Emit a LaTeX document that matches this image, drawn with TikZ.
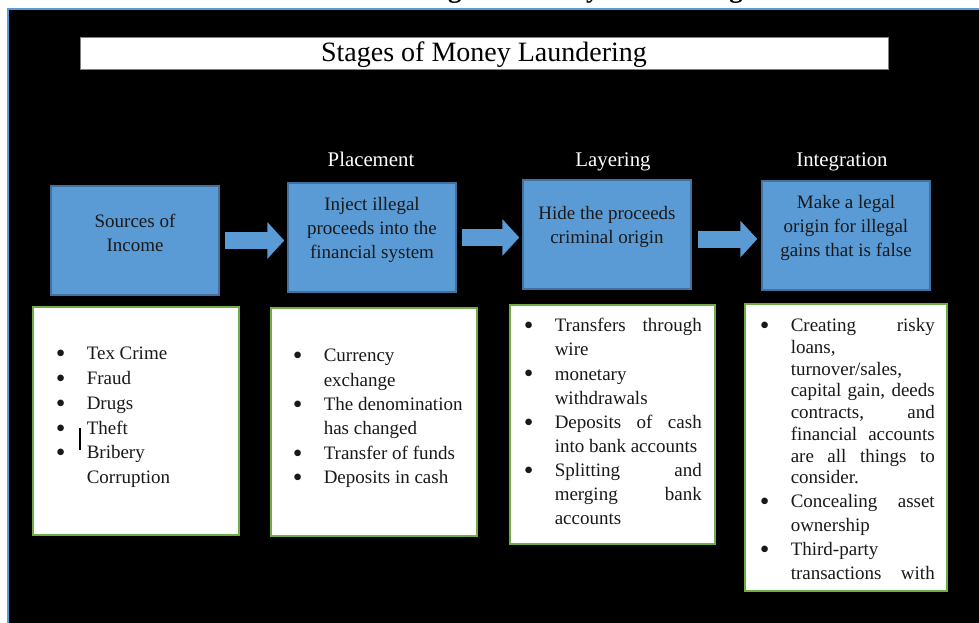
\documentclass[tikz,border=0pt]{standalone}
\usepackage{fontspec}
\setmainfont{Liberation Serif}
\usetikzlibrary{arrows.meta,positioning}

\newdimen\px \px=0.75pt
\definecolor{stageblue}{HTML}{5B9BD5}
\definecolor{stageedge}{HTML}{41719C}
\definecolor{listedge}{HTML}{70AD47}

% bullet column, indent, justified line
\newcommand\bl{\makebox[31\px][l]{\smash{\raisebox{-2.2pt}{\scalebox{1.45}{\textbullet}}}}}
\newcommand\ind{\hspace*{31\px}}
\newcommand\jl[2]{\makebox[#1\px][s]{#2}}
\newcommand\topline{\rule{0pt}{14\px}}

\begin{document}
\begin{tikzpicture}[x=\px,y=-\px,
  stagebox/.style={draw=stageedge,line width=1.5\px,fill=stageblue,minimum width=168\px,minimum height=109\px,inner sep=0pt},
  boxtext/.style={align=center,inner sep=0pt,text=black!90,font=\fontsize{14.25}{18}\selectfont},
  stagelbl/.style={text=white,inner sep=0pt,anchor=base,font=\fontsize{15.6}{18}\selectfont},
  listbox/.style={draw=listedge,line width=2\px,fill=white,inner sep=0pt},
  listtext/.style={align=left,anchor=north west,inner sep=0pt,text=black!90},
  flow/.style={draw=stageblue,line width=12.75pt,-{Triangle[length=12.75pt,width=27pt]},shorten <=3.75pt,shorten >=2.25pt}]

\useasboundingbox (0,0) rectangle (979,623);
\fill[white] (0,0) rectangle (979,623);
\fill[black] (8,9) rectangle (979,623);
\draw[stageblue,line width=2\px] (8,623) -- (8,9) -- (979,9);

% caption, cut off at the top
\begin{scope}
\clip (0,0) rectangle (979,8);
\node[anchor=base,inner sep=0pt,font=\bfseries\fontsize{20.25}{24}\selectfont] (cap) at (500,-2) {Table 1: The Stages of Money Laundering};
\end{scope}

\node[draw=gray,fill=white,minimum width=808\px,inner sep=0pt,text height=25\px,text depth=7\px,font=\fontsize{21}{24}\selectfont] (title) at (484,53) {Stages of Money Laundering};

% stage names
\node[stagelbl] (plab) at (371,167) {Placement};
\node[stagelbl] (llab) at (613,167) {Layering};
\node[stagelbl] (ilab) at (842,167) {Integration};

% blue boxes
\node[stagebox] (src) at (135,240.5) {};
\node[stagebox] (place) at (372,237.5) {};
\node[stagebox] (layer) at (607,234.5) {};
\node[stagebox] (integ) at (846,235.5) {};

\node[boxtext] (srct) at (135,232.5) {Sources of\\Income};
\node[boxtext] (placet) at (372,230) {Inject illegal\\proceeds into the\\financial system};
\node[boxtext] (layert) at (607,227) {Hide the proceeds\\criminal origin};
\node[boxtext] (integt) at (846,228) {Make a legal\\origin for illegal\\gains that is false};

% block arrows
\draw[flow] (src.east) -- (src.east -| place.west);
\draw[flow] (place.east) -- (place.east -| layer.west);
\coordinate (a3) at ([yshift=-3.4pt]layer.east);
\draw[flow,shorten <=4.5pt,shorten >=3pt] (a3) -- (a3 -| integ.west);

% lists
\node[listbox,minimum width=206\px,minimum height=228\px] (srcl) at (136,421) {};
\node[listbox,minimum width=206\px,minimum height=228\px] (placel) at (374,422) {};
\node[listbox,minimum width=205\px,minimum height=239\px] (layerl) at (612.5,424.5) {};
\node[listbox,minimum width=202\px,minimum height=287\px] (integl) at (846,447.5) {};

\node[listtext,font=\fontsize{14.25}{18.6}\selectfont] (srcx) at (55.5,345.5) {\topline\bl Tex Crime\\
\bl Fraud\\
\bl Drugs\\
\bl Theft\\
\bl Bribery\\
\ind Corruption};
\draw[line width=1.5\px] (80,428) -- (80,450);

\node[listtext,font=\fontsize{14.25}{18.3}\selectfont] (placex) at (292.5,347.5) {\topline\bl Currency\\
\ind exchange\\
\bl The denomination\\
\ind has changed\\
\bl Transfer of funds\\
\bl Deposits in cash};

\node[listtext,font=\fontsize{14.25}{18.1}\selectfont] (layerx) at (523.5,317.5) {\topline\bl\jl{147}{Transfers through}\\
\ind wire\\
\bl monetary\\
\ind withdrawals\\
\bl\jl{147}{Deposits of cash}\\
\ind into bank accounts\\
\bl\jl{147}{Splitting and}\\
\ind\jl{147}{merging bank}\\
\ind accounts};

\node[listtext,font=\fontsize{14.25}{16.3}\selectfont] (integx) at (759.5,317.5) {\topline\bl\jl{144}{Creating risky}\\
\ind loans,\\
\ind turnover/sales,\\
\ind\jl{144}{capital gain, deeds}\\
\ind\jl{144}{contracts, and}\\
\ind\jl{144}{financial accounts}\\
\ind\jl{144}{are all things to}\\
\ind consider.\\[1.7pt]
\bl\jl{144}{Concealing asset}\\[1.7pt]
\ind ownership\\[1.7pt]
\bl Third-party\\[1.7pt]
\ind\jl{144}{transactions with}};

\end{tikzpicture}
\end{document}
